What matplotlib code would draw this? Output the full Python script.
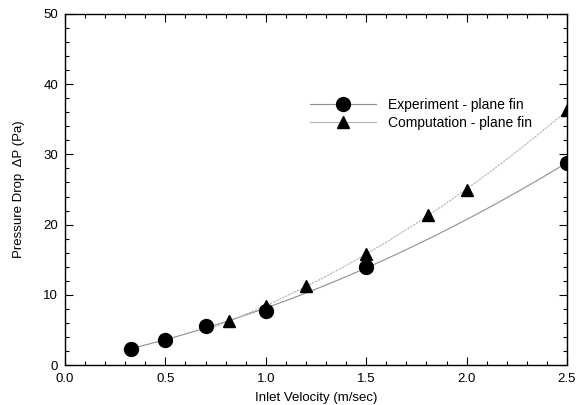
import matplotlib
matplotlib.use("Agg")
import matplotlib.pyplot as plt
import numpy as np
from matplotlib.ticker import MultipleLocator, FormatStrFormatter

plt.rcParams['font.family'] = ['Liberation Sans', 'DejaVu Sans']

exp_v = [0.33, 0.50, 0.70, 1.00, 1.50, 2.50]
exp_p = [2.3, 3.6, 5.6, 7.7, 14.0, 28.8]
comp_v = [0.815, 1.00, 1.20, 1.50, 1.81, 2.00, 2.50]
comp_p = [6.2, 8.4, 11.3, 15.8, 21.4, 24.9, 36.3]

fig = plt.figure(figsize=(5.76, 4.05), dpi=100)
ax = fig.add_axes([65/576, 1-365/405, 502/576, 351/405])

# smooth trend lines fitted to the data points
fe = np.poly1d(np.polyfit(exp_v, exp_p, 2))
fc = np.poly1d(np.polyfit(comp_v, comp_p, 2))
xe = np.linspace(exp_v[0], exp_v[-1], 200)
xc = np.linspace(comp_v[0] - 0.1, comp_v[-1], 200)
ax.plot(xe, fe(xe), color='#8f8f8f', lw=0.8, zorder=1)
ax.plot(xc, fc(xc), color='#b0b0b0', lw=0.8, ls=(0, (2, 1)), zorder=1)

ax.plot(exp_v, exp_p, 'o', color='black', ms=10, zorder=3)
ax.plot(comp_v, comp_p, '^', color='black', ms=9, zorder=3)

# legend handles
h1, = ax.plot([], [], 'o-', color='#8f8f8f', ms=10, lw=0.8,
              markerfacecolor='black', markeredgecolor='black')
h2, = ax.plot([], [], '^-', color='#b0b0b0', ms=9, lw=0.8,
              markerfacecolor='black', markeredgecolor='black')
leg_fs = 10
leg_px = leg_fs * 100 / 72
ax.legend([h1, h2], ['Experiment - plane fin', 'Computation - plane fin'],
          loc='center left',
          bbox_to_anchor=((310 - 0.4 * leg_px) / 576, 1 - 114 / 405),
          bbox_transform=fig.transFigure, borderaxespad=0,
          frameon=False, fontsize=leg_fs, handlelength=4.75,
          labelspacing=0.3, handletextpad=0.86)

ax.set_xlim(0, 2.5)
ax.set_ylim(0, 50)
ax.xaxis.set_major_locator(MultipleLocator(0.5))
ax.xaxis.set_minor_locator(MultipleLocator(0.1))
ax.yaxis.set_major_locator(MultipleLocator(10))
ax.yaxis.set_minor_locator(MultipleLocator(2))
ax.xaxis.set_major_formatter(FormatStrFormatter('%.1f'))
ax.tick_params(which='both', direction='in', top=True, right=True, labelsize=9.5)
ax.tick_params(axis='x', pad=6)
ax.tick_params(axis='y', pad=5)
ax.tick_params(which='major', length=6, width=0.8)
ax.tick_params(which='minor', length=3, width=0.8)
for s in ax.spines.values():
    s.set_linewidth(1.0)

ax.set_xlabel('Inlet Velocity (m/sec)', fontsize=9.5, labelpad=5)
ax.set_ylabel('Pressure Drop  ΔP (Pa)', fontsize=9.5, labelpad=13)

fig.savefig('out.png', dpi=100)
